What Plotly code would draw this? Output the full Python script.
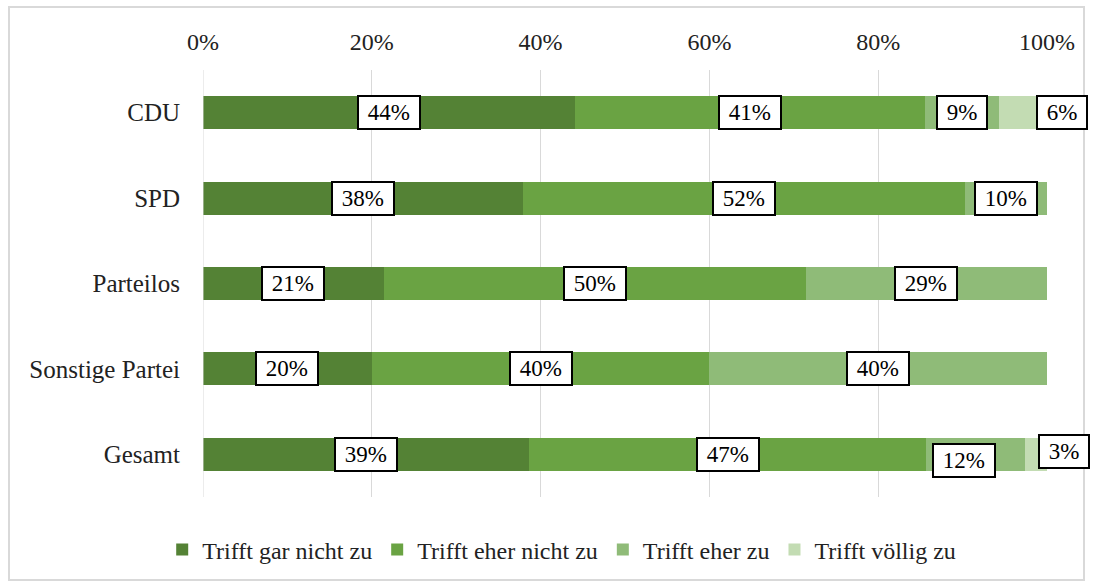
import plotly.graph_objects as go

# Categories (top to bottom) and answer shares per group
GROUPS = ["CDU", "SPD", "Parteilos", "Sonstige Partei", "Gesamt"]
SERIES = ["Trifft gar nicht zu", "Trifft eher nicht zu", "Trifft eher zu", "Trifft völlig zu"]
GAR_NICHT = [0.441, 0.379, 0.214, 0.20, 0.386]
EHER_NICHT = [0.414, 0.524, 0.500, 0.40, 0.471]
EHER_ZU = [0.088, 0.097, 0.286, 0.40, 0.117]
VOELLIG = [0.057, 0.0, 0.0, 0.0, 0.026]
TICK_VALS = [0, 0.2, 0.4, 0.6, 0.8, 1.0]
TICK_TEXT = ["0%", "20%", "40%", "60%", "80%", "100%"]

COLORS = ["#548235", "#6aa343", "#8fbb78", "#c3dcb3"]
FONT = "Liberation Serif"

# manual nudges Excel applied to some labels (group, series) -> (xshift, yshift)
LABEL_NUDGE = {
    (0, 3): (39, 0),
    (4, 2): (-12, -6),
    (4, 3): (28, 3),
}

values = [GAR_NICHT, EHER_NICHT, EHER_ZU, VOELLIG]

fig = go.Figure()
for s, name in enumerate(SERIES):
    fig.add_trace(go.Bar(
        y=GROUPS, x=values[s], name=name, orientation="h",
        marker=dict(color=COLORS[s], line=dict(width=0)),
        hoverinfo="skip",
    ))

# boxed data labels centred on each segment
annotations = []
for g, grp in enumerate(GROUPS):
    start = 0.0
    for s in range(len(SERIES)):
        v = values[s][g]
        if v > 0:
            dx, dy = LABEL_NUDGE.get((g, s), (0, 0))
            annotations.append(dict(
                x=start + v / 2, y=grp, xref="x", yref="y",
                text=f" {round(v * 100)}% ", showarrow=False,
                font=dict(family=FONT, size=23, color="black"),
                bgcolor="white", bordercolor="black", borderwidth=2, borderpad=3,
                xshift=dx, yshift=dy,
            ))
        start += v

fig.update_layout(
    barmode="stack",
    bargap=0.614,
    width=1094, height=587,
    margin=dict(l=203, r=47, t=70, b=90, autoexpand=False),
    paper_bgcolor="white", plot_bgcolor="white",
    font=dict(family=FONT, size=23, color="#222"),
    annotations=annotations,
    legend=dict(
        orientation="h", x=0.425, xanchor="center", y=-0.124, yanchor="middle",
        font=dict(family=FONT, size=24, color="#222"),
        itemwidth=30, traceorder="normal",
    ),
    xaxis=dict(
        side="top", range=[0, 1], tickvals=TICK_VALS, ticktext=TICK_TEXT,
        showgrid=True, gridcolor="#d9d9d9", gridwidth=1,
        zeroline=False, showline=False, ticks="", ticklabelstandoff=14,
        tickfont=dict(size=24),
    ),
    yaxis=dict(
        categoryorder="array", categoryarray=GROUPS, autorange="reversed",
        showgrid=False, zeroline=False, showline=False, ticks="",
        ticklabelstandoff=22, tickfont=dict(size=25),
    ),
    shapes=[
        # outer chart frame
        dict(type="rect", xref="paper", yref="paper",
             x0=(9 - 203) / 844, x1=(1084 - 203) / 844,
             y0=-83 / 427, y1=490 / 427,
             line=dict(color="#d9d9d9", width=2), layer="below"),
        # y axis line at 0%
        dict(type="line", xref="x", yref="paper", x0=0, x1=0, y0=0, y1=1,
             line=dict(color="#d9d9d9", width=1)),
    ],
)

# drop the default body margin so the figure sits at the page origin
post_script = "document.body.style.margin = '0';"

fig.write_html("out.html", post_script=post_script, config={"displayModeBar": False})
